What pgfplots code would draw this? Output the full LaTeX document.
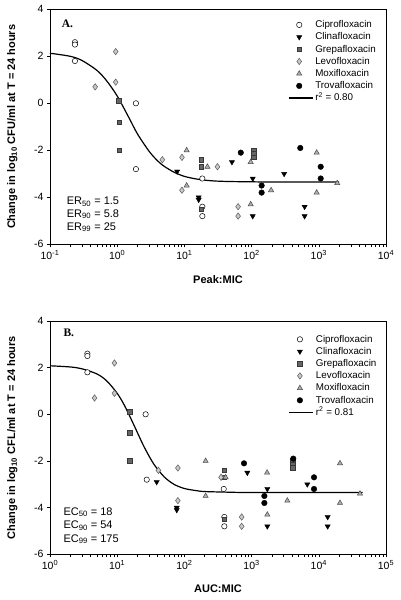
\documentclass[border=0pt]{standalone}
\usepackage{fontspec}
\setmainfont{Liberation Sans}
\newfontfamily\timesfont{Liberation Serif}
\usepackage{pgfplots}
\pgfplotsset{compat=1.18}
\definecolor{grepfill}{HTML}{666666}
\definecolor{grepdraw}{HTML}{383838}
\definecolor{levofill}{HTML}{C8C8C8}
\definecolor{levodraw}{HTML}{5A5A5A}
\definecolor{moxifill}{HTML}{ADADAD}
\definecolor{moxidraw}{HTML}{4A4A4A}
\pgfplotsset{
  mypanel/.style={
    scale only axis, width=336pt,
    ymin=-6, ymax=4,
    ytick={-6,-4,-2,0,2,4}, yticklabels={-6,-4,-2,0,2,4},
    tick pos=left, tick align=outside, major tick length=3pt,
    minor tick num=0,
    axis line style={line width=0.6pt},
    every tick/.style={black, line width=0.6pt},
    tick label style={font=\fontsize{10.5}{12}\selectfont},
    every axis y label/.style={at={(axis description cs:-0.112,0.5)}, rotate=90, anchor=center,
      font=\fontsize{11}{13}\selectfont\bfseries},
    legend style={draw=none, fill=none, anchor=north west, inner sep=0pt,
      font=\fontsize{9.8}{11}\selectfont, row sep=0.7pt,
      nodes={inner xsep=2pt, inner ysep=1pt, text height=7.5pt, text depth=2pt}},
    legend cell align=left,
  },
  mcip/.style={only marks, mark=*, mark size=2.7pt, mark options={fill=white, draw=black, line width=0.5pt}},
  mcli/.style={only marks, mark=triangle*, mark size=3pt, mark options={rotate=180, fill=black, draw=black}},
  mgre/.style={only marks, mark=square*, mark size=2.3pt, mark options={fill=grepfill, draw=grepdraw, line width=0.5pt}},
  mlev/.style={only marks, mark=diamond*, mark size=3.2pt, mark options={fill=levofill, draw=levodraw, line width=0.5pt}},
  mmox/.style={only marks, mark=triangle*, mark size=3pt, mark options={fill=moxifill, draw=moxidraw, line width=0.5pt}},
  mtro/.style={only marks, mark=*, mark size=2.8pt, mark options={fill=black, draw=black}},
  mcurve/.style={no markers, smooth, black, line width=1.2pt,
    legend image code/.code={\draw[##1] (-2pt,0pt) -- (22pt,0pt);}},
}
\begin{document}
\begin{tikzpicture}
\path[use as bounding box] (0pt,0pt) rectangle (400pt,-600pt);
% ---------------- Panel A ----------------
\begin{axis}[xmode=log, mypanel, height=235pt, at={(50pt,-244.3pt)}, anchor=south west,
  xmin=0.1, xmax=10000, xtick={0.1,1,10,100,1000,10000},
  xticklabels={10\textsuperscript{-1},10\textsuperscript{0},10\textsuperscript{1},10\textsuperscript{2},10\textsuperscript{3},10\textsuperscript{4}},
  xlabel={Peak:MIC},
  every axis x label/.style={at={(axis description cs:0.5,-0.152)}, anchor=center, font=\fontsize{11}{13}\selectfont\bfseries},
  ylabel={Change in log\textsubscript{10} CFU/ml at T = 24 hours},
  legend style={at={(rel axis cs:0.708,0.959)}},
]
\addplot[mcip] coordinates {(0.235,2.6)(0.235,2.5)(0.235,1.8)(1.9,0)(1.9,-2.8)(18.5,-3.2)(18.5,-4.4)(18.5,-4.8)};
\addlegendentry{Ciprofloxacin}
\addplot[mcli] coordinates {(7.8,-2.9)(16.3,-4.0)(16.3,-4.1)(51,-2.5)(104,-3.2)(104,-4.8)(305,-3.0)(615,-4.4)(615,-4.8)};
\addlegendentry{Clinafloxacin}
\addplot[mgre] coordinates {(1.06,0.1)(1.07,-0.8)(1.07,-2.0)(17.7,-2.4)(17.7,-2.7)(17.7,-4.5)(107,-2.0)(107,-2.15)(107,-2.3)};
\addlegendentry{Grepafloxacin}
\addplot[mlev] coordinates {(0.47,0.7)(0.95,2.2)(0.95,0.9)(4.7,-2.4)(9.2,-2.3)(9.2,-3.7)(31,-2.7)(63,-4.4)(63,-4.8)};
\addlegendentry{Levofloxacin}
\addplot[mmox] coordinates {(10.8,-2.0)(10.8,-3.5)(22,-2.7)(97,-2.5)(97,-4.3)(195,-3.7)(930,-2.1)(930,-3.8)(1880,-3.4)};
\addlegendentry{Moxifloxacin}
\addplot[mtro] coordinates {(69,-2.1)(141,-3.5)(141,-3.8)(530,-1.9)(1067,-2.7)(1067,-3.2)};
\addlegendentry{Trovafloxacin}
\addplot[mcurve] coordinates {(0.1,2.13)(0.2,2.00)(0.3,1.82)(0.5,1.40)(0.7,0.95)(1,0.31)(1.5,-0.62)(2,-1.30)(3,-2.05)(4,-2.45)(5,-2.68)(7,-2.93)(10,-3.11)(15,-3.22)(20,-3.27)(30,-3.31)(50,-3.33)(100,-3.34)(200,-3.35)(2000,-3.35)};
\addlegendentry{r\textsuperscript{2} = 0.80}
\end{axis}
\node[anchor=west, inner sep=0pt, font=\timesfont\bfseries\fontsize{11.5}{13}\selectfont] at (61.7pt,-24pt) {A.};
\node[anchor=west, inner sep=0pt, font=\fontsize{11}{12}\selectfont] at (66.7pt,-201.7pt) {ER\textsubscript{50} = 1.5};
\node[anchor=west, inner sep=0pt, font=\fontsize{11}{12}\selectfont] at (66.7pt,-214.3pt) {ER\textsubscript{90} = 5.8};
\node[anchor=west, inner sep=0pt, font=\fontsize{11}{12}\selectfont] at (66.7pt,-227.3pt) {ER\textsubscript{99} = 25};
% ---------------- Panel B ----------------
\begin{axis}[xmode=log, mypanel, height=233.3pt, at={(50pt,-554.3pt)}, anchor=south west,
  xmin=1, xmax=100000, xtick={1,10,100,1000,10000,100000},
  xticklabels={10\textsuperscript{0},10\textsuperscript{1},10\textsuperscript{2},10\textsuperscript{3},10\textsuperscript{4},10\textsuperscript{5}},
  xlabel={AUC:MIC},
  every axis x label/.style={at={(axis description cs:0.5,-0.146)}, anchor=center, font=\fontsize{11}{13}\selectfont\bfseries},
  ylabel={Change in log\textsubscript{10} CFL/ml at T = 24 hours},
  legend style={at={(rel axis cs:0.71,0.947)}},
]
\addplot[mcip] coordinates {(3.6,2.6)(3.6,2.5)(3.6,1.8)(26.5,0)(27.5,-2.8)(385,-3.2)(393,-4.4)(393,-4.8)};
\addlegendentry{Ciprofloxacin}
\addplot[mcli] coordinates {(38.7,-2.9)(77,-4.0)(77,-4.1)(864,-2.5)(1714,-3.2)(1714,-4.8)(6745,-3.0)(13550,-4.4)(13550,-4.8)};
\addlegendentry{Clinafloxacin}
\addplot[mgre] coordinates {(15.5,0.1)(15.5,-0.8)(15.5,-2.0)(393,-2.4)(393,-2.7)(393,-4.5)(4085,-2.0)(4085,-2.15)(4085,-2.3)};
\addlegendentry{Grepafloxacin}
\addplot[mlev] coordinates {(4.6,0.7)(9.1,2.2)(9.1,0.9)(41,-2.4)(80,-2.3)(80,-3.7)(351,-2.7)(712,-4.4)(712,-4.8)};
\addlegendentry{Levofloxacin}
\addplot[mmox] coordinates {(207,-2.0)(207,-3.5)(411,-2.7)(1700,-2.5)(1714,-4.3)(3400,-3.7)(20650,-2.1)(20650,-3.8)(41000,-3.4)};
\addlegendentry{Moxifloxacin}
\addplot[mtro] coordinates {(771,-2.1)(1548,-3.5)(1548,-3.8)(4170,-1.9)(8490,-2.7)(8490,-3.2)};
\addlegendentry{Trovafloxacin}
\addplot[mcurve] coordinates {(1,2.08)(2,2.03)(3,1.95)(5,1.73)(7,1.43)(10,0.90)(13,0.35)(18,-0.50)(25,-1.38)(35,-2.13)(50,-2.68)(70,-3.00)(100,-3.18)(150,-3.27)(200,-3.31)(500,-3.34)(1000,-3.35)(45000,-3.35)};
\addlegendentry{r\textsuperscript{2} = 0.81}
\end{axis}
\node[anchor=west, inner sep=0pt, font=\timesfont\bfseries\fontsize{11.5}{13}\selectfont] at (63.3pt,-333.3pt) {B.};
\node[anchor=west, inner sep=0pt, font=\fontsize{11}{12}\selectfont] at (63.3pt,-512.3pt) {EC\textsubscript{50} = 18};
\node[anchor=west, inner sep=0pt, font=\fontsize{11}{12}\selectfont] at (63.3pt,-525.7pt) {EC\textsubscript{90} = 54};
\node[anchor=west, inner sep=0pt, font=\fontsize{11}{12}\selectfont] at (63.3pt,-539.3pt) {EC\textsubscript{99} = 175};
\end{tikzpicture}
\end{document}
